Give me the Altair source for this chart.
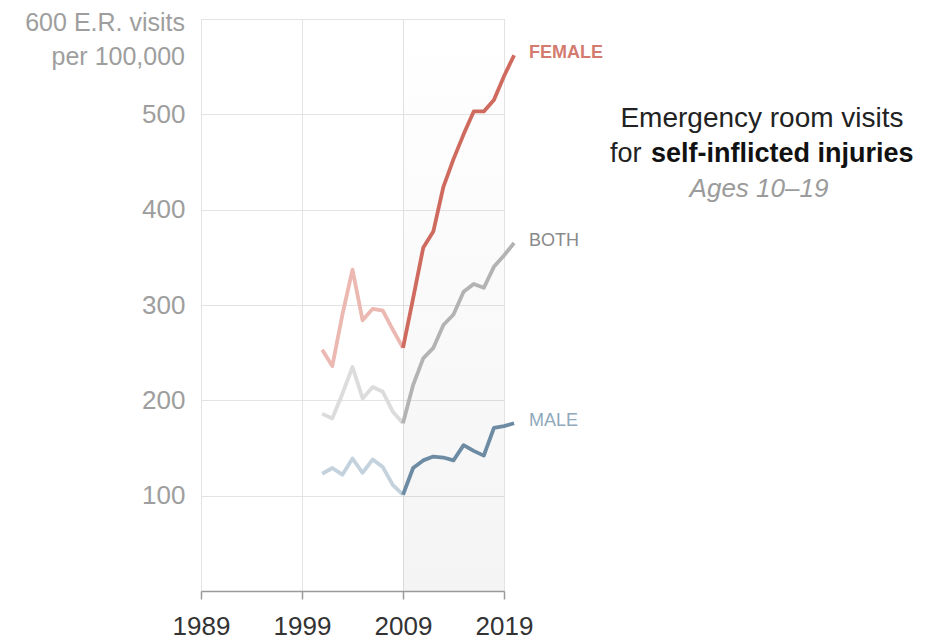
import altair as alt
import pandas as pd

years = [2001, 2002, 2003, 2004, 2005, 2006, 2007, 2008, 2009, 2010,
         2011, 2012, 2013, 2014, 2015, 2016, 2017, 2018, 2019, 2020]
female = [253, 236, 290, 337, 284, 296, 294, 274, 255, 307,
          360, 377, 424, 453, 479, 503, 503, 515, 540, 562]
both = [186, 181, 207, 235, 202, 214, 209, 188, 176, 216,
        244, 255, 279, 290, 314, 322, 318, 340, 352, 365]
male = [123, 129, 122, 139, 124, 138, 130, 111, 101, 129,
        137, 141, 140, 137, 153, 147, 142, 171, 173, 176]

series_names = ["FEMALE", "BOTH", "MALE"]
series_values = [female, both, male]
split_year = 2009
shade_range = [2009, 2019]
x_ticks = [1989, 1999, 2009, 2019]
y_ticks = [100, 200, 300, 400, 500, 600]

rows = []
for name, vals in zip(series_names, series_values):
    for yr, v in zip(years, vals):
        if yr <= split_year:
            rows.append({"series": name, "key": name + "-pre", "year": yr, "value": v})
        if yr >= split_year:
            rows.append({"series": name, "key": name + "-post", "year": yr, "value": v})
lines_df = pd.DataFrame(rows)

labels_df = pd.DataFrame([
    {"series": n, "year": years[-1], "value": vals[-1]}
    for n, vals in zip(series_names, series_values)
])

shade_df = pd.DataFrame({"year": [shade_range[0]], "year_end": [shade_range[1]],
                         "value": [600], "value0": [0]})

FONT = "Liberation Sans"

X = alt.X("year:Q",
          scale=alt.Scale(domain=[1989, 2019], nice=False, zero=False),
          axis=alt.Axis(values=x_ticks, format="d", title=None, grid=True,
                        gridColor="#e3e3e3", gridWidth=1,
                        domainColor="#9a9a9a", domainWidth=1.5,
                        tickColor="#9a9a9a", tickSize=8, tickWidth=1.5,
                        labelFont=FONT, labelFontSize=26, labelColor="#333333",
                        labelPadding=14, labelFlush=False))
Y = alt.Y("value:Q",
          scale=alt.Scale(domain=[0, 600], nice=False),
          axis=alt.Axis(values=y_ticks, title=None, grid=True,
                        gridColor="#e3e3e3", gridWidth=1,
                        domain=False, ticks=False,
                        labelFont=FONT, labelFontSize=26, labelColor="#9e9e9e",
                        labelPadding=16, labelLimit=400,
                        labelExpr="datum.value == 600 ? '' : datum.label"))

shade = alt.Chart(shade_df).mark_rect(
    fill=alt.LinearGradient(
        gradient="linear", x1=0, x2=0, y1=0, y2=1,
        stops=[alt.GradientStop(color="rgba(0,0,0,0)", offset=0),
               alt.GradientStop(color="rgba(0,0,0,0.045)", offset=1)])
).encode(x=X, x2="year_end:Q", y=Y, y2="value0:Q")

color_domain = ["FEMALE-pre", "FEMALE-post", "BOTH-pre", "BOTH-post", "MALE-pre", "MALE-post"]
color_range = ["#ebb8b2", "#cf6a5f", "#dcdcdc", "#b3b3b3", "#c3d2dd", "#6d8ca4"]

lines = alt.Chart(lines_df).mark_line(strokeWidth=3.8, strokeJoin="round", strokeCap="butt").encode(
    x=X, y=Y,
    detail="key:N",
    color=alt.Color("key:N", scale=alt.Scale(domain=color_domain, range=color_range), legend=None),
    order="year:Q",
)

fem_label = alt.Chart(labels_df).transform_filter("datum.series == 'FEMALE'").mark_text(
    align="left", baseline="middle", dx=15, dy=-2, font=FONT, fontSize=18,
    fontWeight="bold", color="#d47b70"
).encode(x=X, y=Y, text="series:N")

other_labels = alt.Chart(labels_df).transform_filter("datum.series != 'FEMALE'").mark_text(
    align="left", baseline="middle", dx=15, dy=-2, font=FONT, fontSize=18
).encode(
    x=X, y=Y, text="series:N",
    color=alt.Color("series:N", scale=alt.Scale(domain=["BOTH", "MALE"], range=["#8a8a8a", "#8fa9bc"]), legend=None),
)

one = pd.DataFrame({"a": [0]})

top_label = alt.Chart(one).mark_text(
    align="right", baseline="alphabetic", font=FONT, fontSize=25, color="#9e9e9e"
).encode(x=alt.value(-16), y=alt.value(12), text=alt.value("600 E.R. visits"))

per_label = alt.Chart(one).mark_text(
    align="right", baseline="alphabetic", font=FONT, fontSize=25, color="#9e9e9e"
).encode(x=alt.value(-16), y=alt.value(46), text=alt.value("per 100,000"))

t1 = alt.Chart(one).mark_text(
    align="center", baseline="alphabetic", font=FONT, fontSize=28, color="#222222"
).encode(x=alt.value(561), y=alt.value(108), text=alt.value("Emergency room visits"))

t2a = alt.Chart(one).mark_text(
    align="left", baseline="alphabetic", font=FONT, fontSize=27, color="#222222"
).encode(x=alt.value(409), y=alt.value(143), text=alt.value("for"))

t2b = alt.Chart(one).mark_text(
    align="left", baseline="alphabetic", font=FONT, fontSize=27, fontWeight="bold", color="#111111"
).encode(x=alt.value(450), y=alt.value(143), text=alt.value("self-inflicted injuries"))

t3 = alt.Chart(one).mark_text(
    align="center", baseline="alphabetic", font=FONT, fontSize=26, fontStyle="italic", color="#9b9b9b"
).encode(x=alt.value(558), y=alt.value(178), text=alt.value("Ages 10–19"))

chart = alt.layer(
    shade, lines, fem_label, other_labels, top_label, per_label, t1, t2a, t2b, t3
).resolve_scale(color="independent").properties(
    width=303, height=572,
    autosize=alt.AutoSizeParams(type="none"),
    padding={"left": 193, "top": 11, "right": 420, "bottom": 48},
).configure_view(stroke=None).configure(background="white")

chart.save("out.html", embed_options={"renderer": "svg", "actions": False})
